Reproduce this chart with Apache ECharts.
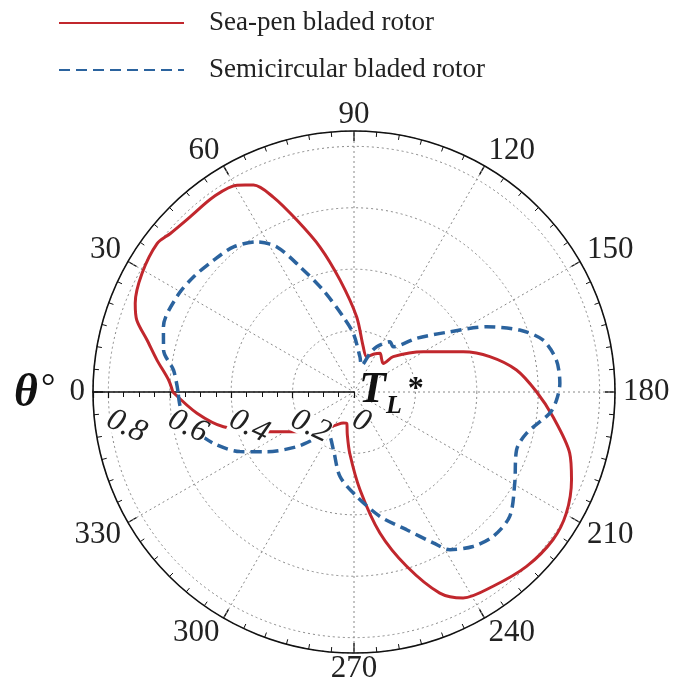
<!DOCTYPE html>
<html>
<head>
<meta charset="utf-8">
<script src="https://cdn.jsdelivr.net/npm/echarts@6/dist/echarts.min.js"></script>
<style>
  html, body { margin: 0; padding: 0; background: #fff; }
  #chart { width: 676px; height: 686px; }
</style>
</head>
<body>
<div id="chart"></div>
<script>
// Lift coefficient T_L* versus rotor angle θ (degrees)
const seaPenAngle = [0, 3.7, 9.2, 14.1, 18.3, 22.1, 29.2, 37, 40.8, 46.9, 54.2, 60.5, 64.1, 67.5, 71.6, 76.8, 82.9, 92, 101.6, 109.8, 118, 123.9, 130, 135.6, 138, 149.8, 159.8, 165.4, 172.3, 180, 187.1, 195.8, 202, 209.7, 216.6, 225.3, 234.4, 242.1, 246.9, 253.2, 259.6, 266.5, 274, 279, 283, 289, 298, 312, 326.8, 335.5, 345.1, 352.3, 360];
const seaPenTL    = [0.59, 0.605, 0.65, 0.695, 0.745, 0.769, 0.791, 0.803, 0.79, 0.781, 0.783, 0.774, 0.749, 0.687, 0.59, 0.485, 0.367, 0.245, 0.15, 0.122, 0.14, 0.152, 0.14, 0.133, 0.172, 0.261, 0.379, 0.457, 0.534, 0.595, 0.653, 0.73, 0.764, 0.796, 0.807, 0.799, 0.778, 0.759, 0.712, 0.593, 0.467, 0.319, 0.2, 0.14, 0.105, 0.107, 0.121, 0.17, 0.236, 0.312, 0.44, 0.516, 0.59];

const semiAngle = [0, 6.9, 12.4, 18.9, 28.3, 35.7, 43.2, 50.3, 57.1, 62, 66.7, 73.2, 81.9, 89.3, 99.6, 106, 112.5, 116.6, 125.6, 130.9, 139.4, 147.9, 153.8, 159.5, 164.6, 171, 177.6, 182.3, 186.2, 193.4, 199.6, 209.6, 218.6, 226.1, 232.4, 238.7, 242.3, 249.1, 258.2, 268.5, 279.4, 289.6, 300.9, 307.3, 316.3, 325.6, 332.4, 338.9, 344.4, 349.4, 355.2, 360];
const semiTL    = [0.573, 0.592, 0.635, 0.656, 0.655, 0.643, 0.627, 0.614, 0.582, 0.535, 0.444, 0.346, 0.247, 0.191, 0.116, 0.09, 0.136, 0.165, 0.201, 0.195, 0.269, 0.369, 0.481, 0.576, 0.638, 0.667, 0.671, 0.66, 0.641, 0.578, 0.562, 0.602, 0.649, 0.653, 0.635, 0.601, 0.555, 0.48, 0.414, 0.34, 0.279, 0.2, 0.163, 0.183, 0.258, 0.344, 0.419, 0.479, 0.52, 0.554, 0.568, 0.573];

const seriesNames = ['Sea-pen bladed rotor', 'Semicircular bladed rotor'];
const angleTicks = [0, 30, 60, 90, 120, 150, 180, 210, 240, 270, 300, 330];
const radiusTicks = [0, 0.2, 0.4, 0.6, 0.8];

const RED = '#c1272d';
const BLUE = '#2b639e';
const SERIF = '"Liberation Serif", "DejaVu Serif", serif';

const pair = (r, a) => r.map((v, i) => [v, a[i]]);

const center = [354, 392];
const radius = 261;
const rMax = 0.85;

const chart = echarts.init(document.getElementById('chart'), null, { renderer: 'canvas' });

chart.setOption({
  backgroundColor: '#fff',
  animation: false,
  legend: {
    orient: 'vertical',
    left: 53,
    top: 3,
    itemWidth: 125,
    itemHeight: 14,
    itemGap: 17,
    itemStyle: { opacity: 0 },
    textStyle: { fontFamily: SERIF, fontSize: 27, color: '#222', padding: [0, 0, 0, 20], lineHeight: 30 },
    data: seriesNames
  },
  polar: [
    { center: center, radius: radius },
    { center: center, radius: radius }
  ],
  angleAxis: [
    {
      polarIndex: 0,
      type: 'value',
      min: 0,
      max: 360,
      interval: 30,
      startAngle: 180,
      clockwise: true,
      axisLine: { lineStyle: { color: '#111', width: 1.6 } },
      axisTick: { inside: true, length: 10, lineStyle: { color: '#111', width: 1.4 } },
      minorTick: { show: true, splitNumber: 6, length: 5, lineStyle: { color: '#111', width: 1 } },
      axisLabel: {
        margin: 8,
        fontFamily: SERIF,
        fontSize: 31,
        lineHeight: 16,
        color: '#222',
        formatter: v => (angleTicks.indexOf(v) >= 0 ? String(v) : '')
      },
      splitLine: { show: true, lineStyle: { color: '#888', type: [2, 3], width: 1 } }
    },
    {
      polarIndex: 1,
      type: 'value',
      min: 0,
      max: 360,
      startAngle: 180,
      clockwise: true,
      show: false
    }
  ],
  radiusAxis: [
    {
      polarIndex: 0,
      type: 'value',
      min: 0,
      max: rMax,
      interval: 0.2,
      axisLine: { lineStyle: { color: '#111', width: 1.6 } },
      axisTick: { show: true, length: 6, lineStyle: { color: '#111', width: 1.2 } },
      minorTick: { show: true, splitNumber: 4, length: 5, lineStyle: { color: '#111', width: 1 } },
      axisLabel: { show: false },
      splitLine: { show: true, lineStyle: { color: '#888', type: [2, 3], width: 1 } }
    },
    {
      polarIndex: 1,
      type: 'value',
      min: 0,
      max: rMax,
      interval: 0.2,
      z: 10,
      axisLine: { show: false },
      axisTick: { show: false },
      splitLine: { show: false },
      axisLabel: {
        show: true,
        rotate: -25,
        margin: 26,
        fontFamily: SERIF,
        fontStyle: 'italic',
        fontSize: 32,
        lineHeight: 24,
        color: '#222',
        backgroundColor: '#fff',
        padding: 0,
        formatter: v => {
          const hit = radiusTicks.find(t => Math.abs(t - v) < 1e-6);
          return hit === undefined ? '' : String(hit);
        }
      }
    }
  ],
  series: [
    {
      name: seriesNames[0],
      type: 'line',
      coordinateSystem: 'polar',
      polarIndex: 0,
      symbol: 'none',
      smooth: 0.3,
      lineStyle: { color: RED, width: 3 },
      itemStyle: { color: RED },
      data: pair(seaPenTL, seaPenAngle)
    },
    {
      name: seriesNames[1],
      type: 'line',
      coordinateSystem: 'polar',
      polarIndex: 0,
      symbol: 'none',
      smooth: 0.3,
      lineStyle: { color: BLUE, width: 3.5, type: [11, 6] },
      itemStyle: { color: BLUE },
      data: pair(semiTL, semiAngle)
    }
  ],
  graphic: [
    {
      type: 'text',
      left: 14,
      top: 371,
      z: 20,
      style: {
        text: '{t|θ}{d|°}',
        rich: {
          t: { fontFamily: SERIF, fontSize: 46, fontStyle: 'italic', fontWeight: 'bold', fill: '#111' },
          d: { fontFamily: SERIF, fontSize: 36, fill: '#111', verticalAlign: 'top', padding: [0, 0, 0, 3] }
        }
      }
    },
    {
      type: 'text',
      left: 359,
      top: 369,
      z: 20,
      style: {
        text: '{t|T}{s|L}{a|*}',
        rich: {
          t: { fontFamily: SERIF, fontSize: 44, fontStyle: 'italic', fontWeight: 'bold', fill: '#111' },
          s: { fontFamily: SERIF, fontSize: 26, fontStyle: 'italic', fontWeight: 'bold', fill: '#111', padding: [30, 0, 0, 0] },
          a: { fontFamily: SERIF, fontSize: 32, fontWeight: 'bold', fill: '#111', padding: [0, 0, 2, 6] }
        }
      }
    }
  ]
});
</script>
</body>
</html>
